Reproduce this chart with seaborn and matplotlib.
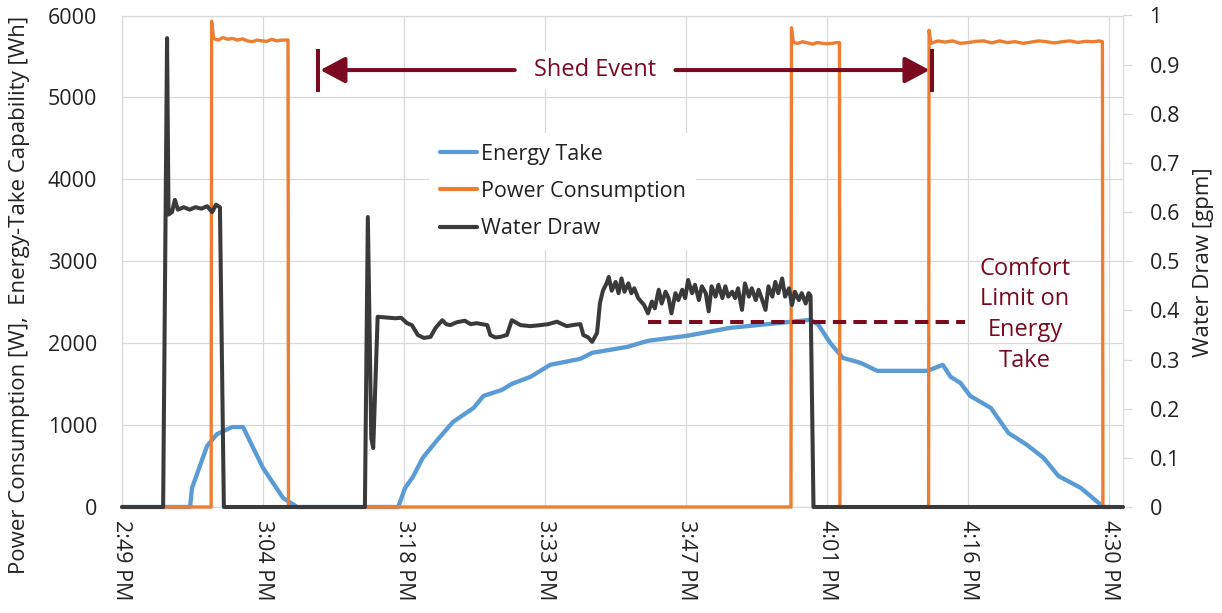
import matplotlib
matplotlib.use("Agg")
import matplotlib.pyplot as plt
import seaborn as sns
from matplotlib.lines import Line2D

# Time axis in minutes after the first tick (2:49 PM); ticks every 14.4 min
tick_minutes = [0, 14.4, 28.8, 43.2, 57.6, 72.0, 86.4, 100.8]
tick_labels = ["2:49 PM", "3:04 PM", "3:18 PM", "3:33 PM",
               "3:47 PM", "4:01 PM", "4:16 PM", "4:30 PM"]

# Energy-take capability [Wh]
energy_t = [0, 6.95, 7.15, 8.68, 9.70, 11.24, 12.36, 14.40, 16.45, 17.88,
            28.2, 28.9, 29.7, 30.7, 32.2, 33.8, 35.9, 36.9, 38.8, 39.8,
            41.7, 43.7, 46.8, 48.0, 51.6, 53.7, 57.7, 62.1, 67.2, 70.3,
            71.1, 72.3, 73.6, 75.4, 77.1, 82.2, 83.8, 84.6, 85.6, 86.6,
            88.7, 90.5, 92.4, 94.1, 95.6, 97.9, 100.2, 100.9]
energy_wh = [0, 0, 232, 744, 890, 976, 976, 476, 110, 0,
             0, 232, 367, 599, 819, 1039, 1210, 1356, 1430, 1503,
             1589, 1735, 1809, 1882, 1955, 2029, 2090, 2187, 2248, 2285,
             2224, 2004, 1820, 1760, 1662, 1662, 1735, 1589, 1515, 1356,
             1210, 904, 758, 599, 379, 232, 0, 0]

# Heater power consumption [W]
power_t = [0, 9.10, 9.15, 9.35, 9.8, 10.3, 10.8, 11.3, 11.8, 12.3, 12.8,
           13.3, 13.8, 14.3, 14.8, 15.3, 15.8, 16.3, 16.7, 16.95, 17.00,
           68.30, 68.35, 68.55, 69.0, 69.5, 70.0, 70.5, 71.0, 71.5, 72.0,
           72.5, 73.0, 73.25, 73.30,
           82.35, 82.40, 82.60, 83.3, 84.0, 84.8, 85.6, 86.4, 87.2, 88.0,
           88.8, 89.6, 90.4, 91.2, 92.0, 92.8, 93.6, 94.4, 95.2, 96.0,
           96.8, 97.6, 98.4, 99.2, 99.8, 100.10, 100.15, 102.2]
power_w = [0, 0, 5930, 5720, 5700, 5730, 5710, 5720, 5700, 5715, 5690,
           5680, 5700, 5690, 5685, 5710, 5690, 5700, 5700, 5700, 0,
           0, 5850, 5670, 5660, 5680, 5665, 5650, 5670, 5660, 5655,
           5660, 5670, 5670, 0,
           0, 5820, 5660, 5690, 5675, 5690, 5660, 5670, 5685, 5690,
           5665, 5690, 5670, 5680, 5660, 5675, 5690, 5680, 5665, 5680,
           5690, 5670, 5685, 5680, 5690, 5680, 0, 0]

# Hot-water draw [gpm]
water_t = [0, 4.20, 4.60, 4.75, 5.1, 5.4, 5.7, 6.3, 6.9, 7.5, 8.1, 8.7,
           9.2, 9.6, 10.0, 10.4,
           24.8, 25.1, 25.45, 25.65, 26.1, 27.9, 28.5, 29.1, 29.6, 30.2,
           30.8, 31.5, 32.0, 32.7, 33.1, 33.5, 34.2, 35.0, 35.6, 36.2,
           37.3, 37.6, 38.1, 38.6, 39.3, 39.8, 40.7, 41.7, 42.7, 43.5,
           44.4, 45.4, 46.3, 46.8, 47.1, 47.6, 48.0, 48.5, 48.8, 49.1,
           49.5, 49.7, 50.0, 50.4, 50.7, 51.0, 51.3, 51.7, 52.0, 52.3,
           52.7, 53.3, 53.7, 54.1, 54.4, 54.8, 55.1, 55.5, 55.8, 56.1,
           56.5, 56.8, 57.2, 57.5, 57.8, 58.2, 58.5, 58.9, 59.2, 59.6,
           59.9, 60.2, 60.6, 60.9, 61.3, 61.6, 61.9, 62.3, 62.6, 62.9,
           63.3, 63.6, 64.0, 64.3, 64.7, 65.0, 65.3, 65.7, 66.0, 66.4,
           66.7, 67.0, 67.4, 67.7, 68.1, 68.4, 68.7, 69.1, 69.4, 69.8,
           70.1, 70.3, 70.6, 102.2]
water_gpm = [0, 0, 0.954, 0.595, 0.600, 0.625, 0.605, 0.610, 0.605, 0.610,
             0.607, 0.612, 0.600, 0.615, 0.610, 0,
             0, 0.590, 0.140, 0.120, 0.387, 0.384, 0.385, 0.374, 0.370,
             0.350, 0.344, 0.346, 0.364, 0.380, 0.372, 0.370, 0.376, 0.379,
             0.372, 0.374, 0.370, 0.350, 0.345, 0.346, 0.350, 0.380, 0.370,
             0.368, 0.370, 0.372, 0.377, 0.368, 0.371, 0.372, 0.350, 0.345,
             0.336, 0.354, 0.415, 0.440, 0.456, 0.468, 0.440, 0.458, 0.435,
             0.465, 0.438, 0.455, 0.435, 0.445, 0.425, 0.411, 0.394, 0.418,
             0.404, 0.442, 0.414, 0.438, 0.425, 0.394, 0.435, 0.421, 0.442,
             0.425, 0.462, 0.435, 0.452, 0.421, 0.449, 0.435, 0.398, 0.449,
             0.428, 0.452, 0.425, 0.449, 0.428, 0.438, 0.425, 0.445, 0.401,
             0.455, 0.428, 0.445, 0.421, 0.442, 0.425, 0.401, 0.449, 0.428,
             0.458, 0.435, 0.465, 0.428, 0.445, 0.411, 0.438, 0.421, 0.435,
             0.414, 0.435, 0.430, 0, 0]

# Annotation values
comfort_limit_wh = 2255
comfort_span = (53.7, 86.1)
shed_span = (20.0, 82.7)
shed_level_wh = 5334
shed_bar_wh = (5071, 5597)

BLUE = "#5B9BD5"
ORANGE = "#ED7D31"
DARK = "#3A3A3A"
MAROON = "#7B0A20"
GRID = "#D9D9D9"
TEXT = "#222222"

sns.set_theme(style="white")
plt.rcParams["font.family"] = ["Open Sans", "DejaVu Sans"]

fig = plt.figure(figsize=(12.22, 6.13), dpi=100)
ax = fig.add_axes([122 / 1222, 1 - 507 / 613, 1001 / 1222, 491.5 / 613])
ax2 = ax.twinx()

line_kw = dict(estimator=None, sort=False, legend=False, clip_on=False,
               solid_joinstyle="round", solid_capstyle="round")
sns.lineplot(x=energy_t, y=energy_wh, ax=ax, color=BLUE, linewidth=3.1, **line_kw)
sns.lineplot(x=power_t, y=power_w, ax=ax, color=ORANGE, linewidth=2.4, **line_kw)
sns.lineplot(x=water_t, y=water_gpm, ax=ax2, color=DARK, linewidth=2.9, **line_kw)

ax.set_xlim(0, 102.2)
ax.set_ylim(0, 6000)
ax2.set_ylim(0, 1)

ax.set_xticks(tick_minutes)
ax.set_xticklabels(tick_labels, rotation=-90)
ax.set_yticks(range(0, 6001, 1000))
ax.grid(True, color=GRID, linewidth=0.9)
ax.set_axisbelow(True)
ax.tick_params(axis="x", length=0, pad=9, labelsize=15.5, labelcolor=TEXT)
ax.tick_params(axis="y", length=0, pad=18, labelsize=15.5, labelcolor=TEXT)

ax2.grid(False)
gpm_ticks = [i / 10 for i in range(11)]
ax2.set_yticks(gpm_ticks)
ax2.set_yticklabels(["0"] + [f"{v:.1f}" for v in gpm_ticks[1:-1]] + ["1"])
ax2.tick_params(axis="y", length=6.5, width=0.9, color=GRID, pad=12.5,
                labelsize=15.5, labelcolor=TEXT, right=True)
ax.set_xlabel("")
ax.set_ylabel("")
ax2.set_ylabel("")

# Light frame kept underneath the data lines
for s in ax.spines.values():
    s.set_color(GRID)
    s.set_linewidth(0.9)
    s.set_zorder(0.5)
for s in ax2.spines.values():
    s.set_visible(False)

fig.text(20 / 1222, 1 - 295 / 613,
         "Power Consumption [W],  Energy-Take Capability [Wh]",
         rotation=90, ha="center", va="center", fontsize=16, color=TEXT)
fig.text(1204 / 1222, 1 - 262 / 613, "Water Draw [gpm]",
         rotation=90, ha="center", va="center", fontsize=16, color=TEXT)

# Comfort limit (drawn on the secondary axis so it sits above the curves)
ax2.plot([comfort_span[0], comfort_span[1]],
         [comfort_limit_wh / 6000] * 2, color=MAROON, linewidth=2.9,
         dashes=(3.3, 1.8), solid_capstyle="butt")
ax2.text(92.2, 2345 / 6000, "Comfort\nLimit on\nEnergy\nTake",
         ha="center", va="center", fontsize=17, color=MAROON, linespacing=1.38)

# Shed event span
y_shed = shed_level_wh / 6000
ax2.vlines(list(shed_span), shed_bar_wh[0] / 6000, shed_bar_wh[1] / 6000,
           color=MAROON, linewidth=2.9)
arrow = dict(arrowstyle="-|>,head_length=1.5,head_width=0.8", color=MAROON,
             lw=2.9, shrinkA=0, shrinkB=0, mutation_scale=10)
ax2.annotate("", xy=(shed_span[0] + 0.25, y_shed), xytext=(40.1, y_shed),
             arrowprops=arrow)
ax2.annotate("", xy=(shed_span[1] - 0.25, y_shed), xytext=(56.5, y_shed),
             arrowprops=arrow)
ax2.text(48.3, y_shed, "Shed Event", ha="center", va="center",
         fontsize=17, color=MAROON,
         bbox=dict(boxstyle="square,pad=0.3", facecolor="white", edgecolor="none"))

handles = [Line2D([0], [0], color=BLUE, lw=3.0),
           Line2D([0], [0], color=ORANGE, lw=3.0),
           Line2D([0], [0], color=DARK, lw=3.0)]
leg = ax2.legend(handles, ["Energy Take", "Power Consumption", "Water Draw"],
                 loc="upper left", bbox_to_anchor=(429 / 1222, 1 - 133 / 613),
                 bbox_transform=fig.transFigure, frameon=True, facecolor="white",
                 edgecolor="none", framealpha=1, fontsize=15.5, handlelength=1.75,
                 handletextpad=0.15, labelspacing=0.75, borderpad=0.5,
                 borderaxespad=0, fancybox=False)
for t in leg.get_texts():
    t.set_color(TEXT)

fig.savefig("out.png", dpi=100)
